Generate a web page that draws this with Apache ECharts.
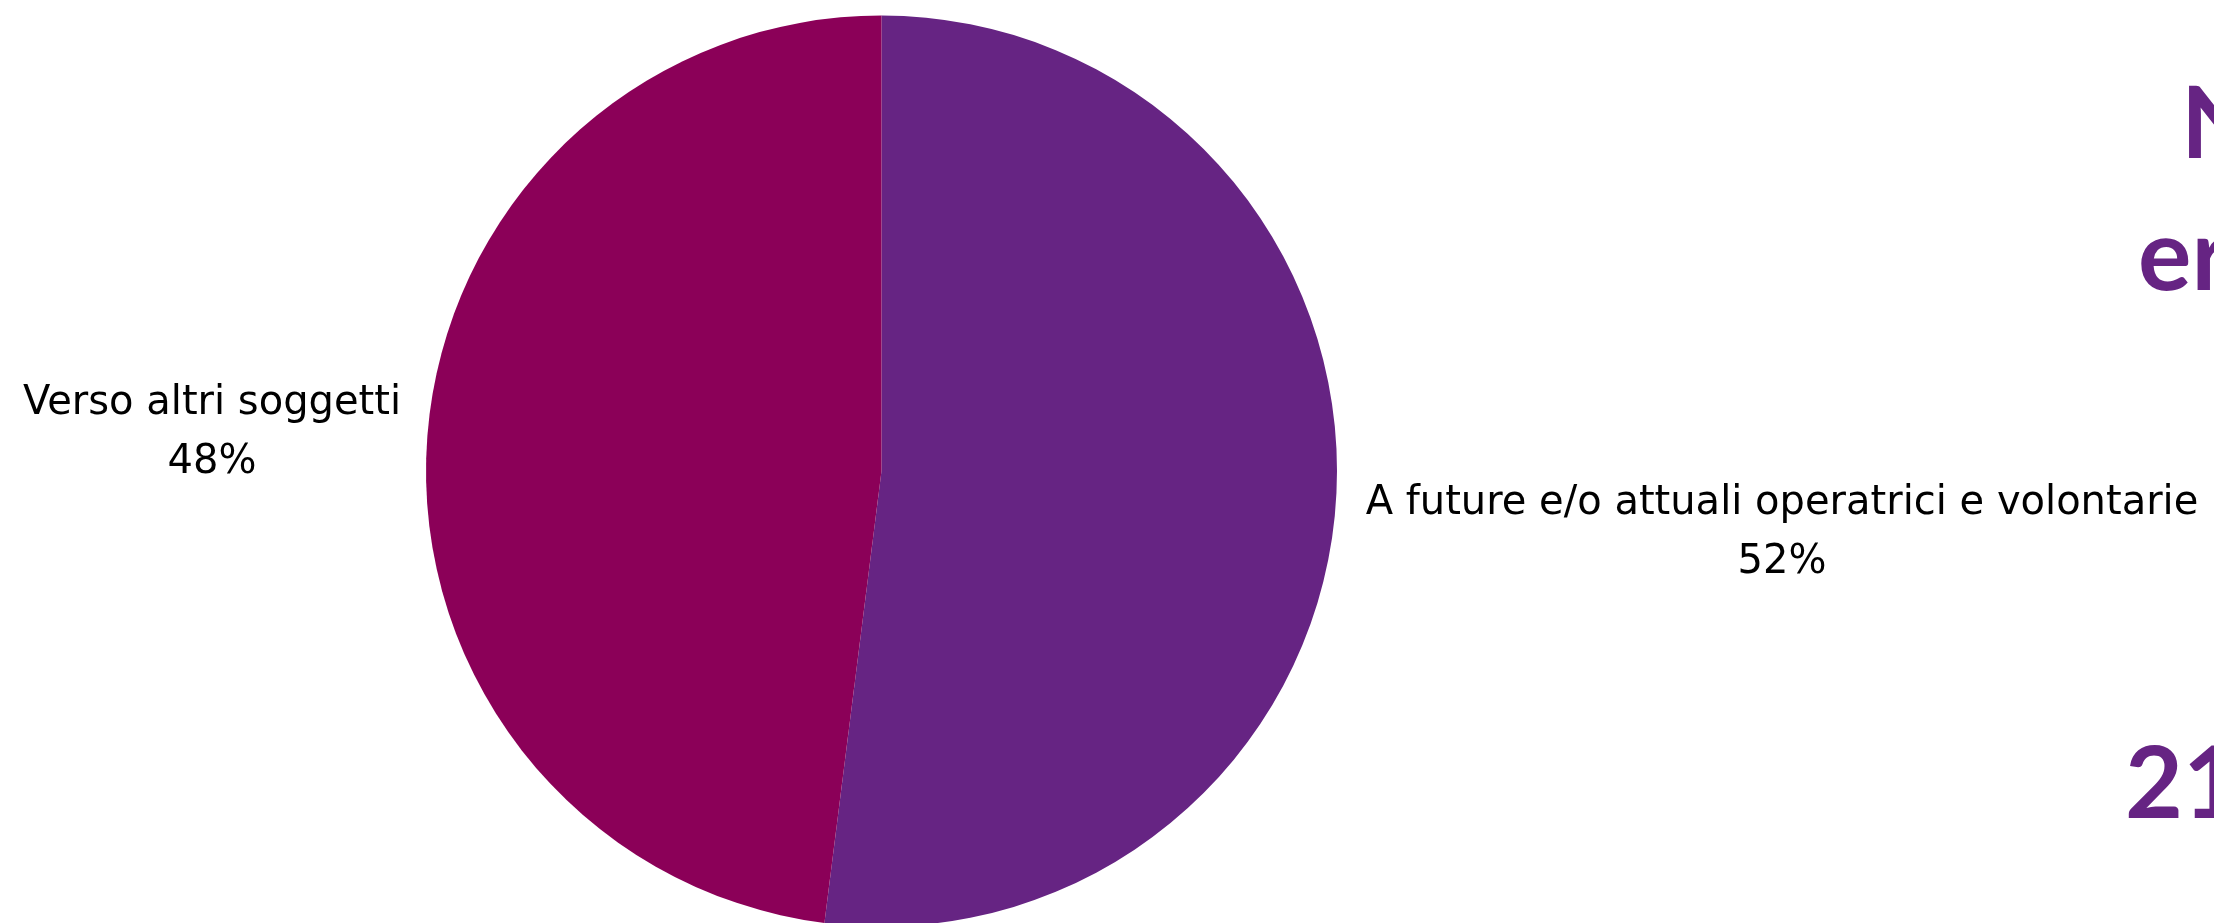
<!DOCTYPE html>
<html>
<head>
<meta charset="utf-8">
<script src="https://cdn.jsdelivr.net/npm/echarts@6/dist/echarts.min.js"></script>
<style>
html,body{margin:0;padding:0;background:#fff;}
#chart{width:2214px;height:923px;}
</style>
</head>
<body>
<div id="chart"></div>
<script>
const categories = ['A future e/o attuali operatrici e volontarie', 'Verso altri soggetti'];
const values = [52, 48];
const sideTexts = ['Nu', 'er', '21'];
const colors = ['#662483', '#8B0058'];

const labelPos = [[1782, 533], [212, 433]];
const sidePos = [[2181, 126], [2138, 258], [2125, 786]];

const chart = echarts.init(document.getElementById('chart'), null, {renderer: 'canvas'});
chart.setOption({
  animation: false,
  backgroundColor: '#ffffff',
  graphic: sideTexts.map((t, i) => ({
    type: 'text',
    x: sidePos[i][0],
    y: sidePos[i][1],
    style: {text: t, fill: '#662483', font: 'bold 100px Lato', textAlign: 'left', textVerticalAlign: 'middle', verticalAlign: 'middle'}
  })),
  series: [{
    type: 'pie',
    center: [881.5, 471],
    radius: 455.5,
    startAngle: 90,
    clockwise: true,
    avoidLabelOverlap: false,
    data: categories.map((c, i) => ({name: c, value: values[i], itemStyle: {color: colors[i]}})),
    label: {
      show: true,
      position: 'outside',
      formatter: p => p.name + '\n' + Math.round(p.percent) + '%',
      color: '#000',
      fontFamily: 'DejaVu Sans',
      fontSize: 40,
      lineHeight: 59,
      align: 'center',
      overflow: 'none',
      width: 1000
    },
    labelLine: {show: false},
    labelLayout: function (params) {
      const p = labelPos[params.dataIndex];
      return {x: p[0], y: p[1], align: 'center', verticalAlign: 'middle', hideOverlap: false};
    },
    emphasis: {disabled: true}
  }]
});
</script>
</body>
</html>
